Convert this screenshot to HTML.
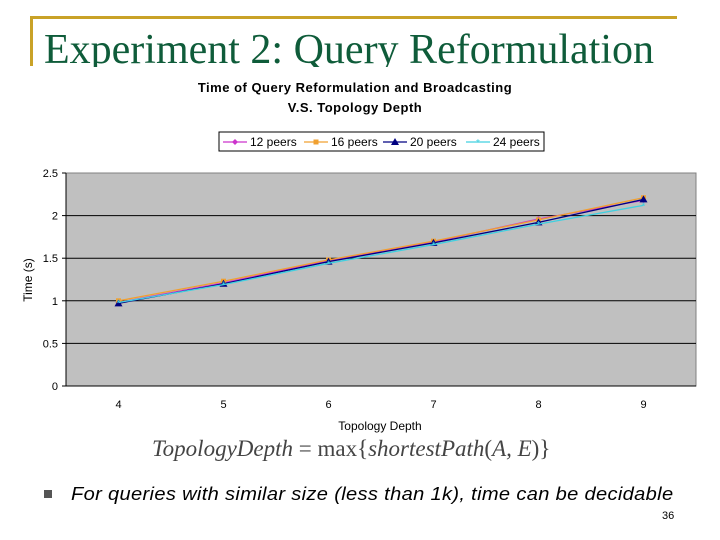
<!DOCTYPE html>
<html><head><meta charset="utf-8"><style>
body{margin:0;width:720px;height:540px;background:#fff;overflow:hidden;position:relative;font-family:"Liberation Sans",sans-serif}
.abs{position:absolute}
</style></head><body>
<div class="abs" style="left:30px;top:16px;width:647px;height:3px;background:#c9a227"></div>
<div class="abs" style="left:30px;top:16px;width:3px;height:50px;background:#c9a227"></div>
<div class="abs" style="left:44px;top:25px;font-family:'Liberation Serif',serif;font-size:42px;color:#0f5c3a;white-space:nowrap;line-height:50px;height:42px;overflow:hidden">Experiment 2: Query Reformulation</div>
<svg class="abs" style="left:0;top:0" width="720" height="540">
<g id="chart"></g>
</svg>
<div class="abs" style="left:152px;top:436px;font-family:'Liberation Serif',serif;font-style:italic;font-size:23px;color:#444;white-space:nowrap">TopologyDepth <span style="font-style:normal">= max{</span>shortestPath<span style="font-style:normal">(</span>A, E<span style="font-style:normal">)}</span></div>
<div class="abs" style="left:44px;top:490px;width:8px;height:8px;background:#555"></div>
<div class="abs" style="left:71px;top:484px;font-size:18px;font-style:italic;color:#000;white-space:nowrap;letter-spacing:0.3px;transform:scaleX(1.115);transform-origin:left">For queries with similar size (less than 1k), time can be decidable</div>
<div class="abs" style="left:662px;top:510px;font-size:11px;color:#000">36</div>
<script>
const categories=[4,5,6,7,8,9];
const yTicks=[0,0.5,1,1.5,2,2.5];
const yTickLabels=["0","0.5","1","1.5","2","2.5"];
const s12=[0.98,1.21,1.47,1.69,1.96,2.18];
const s16=[1.00,1.23,1.48,1.70,1.95,2.21];
const s20=[0.97,1.20,1.46,1.68,1.92,2.19];
const s24=[0.98,1.19,1.44,1.66,1.90,2.12];
const seriesNames=["12 peers","16 peers","20 peers","24 peers"];
const NS="http://www.w3.org/2000/svg";
const g=document.getElementById('chart');
const L=66,R=696,T=173,B=386,ymax=2.5;
const xS=i=>L+(R-L)/categories.length*(i+0.5);
const yS=v=>B-(B-T)*v/ymax;
function mk(t,a,txt){const e=document.createElementNS(NS,t);for(const k in a)e.setAttribute(k,a[k]);if(txt!=null)e.textContent=txt;g.appendChild(e);return e;}
let e;
e=mk('text',{x:355,y:92,'text-anchor':'middle','font-size':13,'font-weight':'bold','letter-spacing':'0.5'},'Time of Query Reformulation and Broadcasting');

e=mk('text',{x:355,y:112,'text-anchor':'middle','font-size':13,'font-weight':'bold','letter-spacing':'0.5'},'V.S. Topology Depth');

e=mk('rect',{x:L,y:T,width:R-L,height:B-T,fill:'#c0c0c0',stroke:'#808080'});

yTicks.forEach((v,i)=>{
 if(v>0&&v<ymax){e=mk('line',{x1:L,x2:R,y1:yS(v),y2:yS(v),stroke:'#000','stroke-width':1});
 }
 e=mk('line',{x1:L-4,x2:L,y1:yS(v),y2:yS(v),stroke:'#000'});
 
 e=mk('text',{x:L-8,y:yS(v)+4,'text-anchor':'end','font-size':11},yTickLabels[i]);
 
});
categories.forEach((c,i)=>{
 e=mk('text',{x:xS(i),y:408,'text-anchor':'middle','font-size':11},String(c));
 
});
e=mk('line',{x1:L,x2:L,y1:T,y2:B,stroke:'#000'});
e=mk('line',{x1:L,x2:R,y1:B,y2:B,stroke:'#000'});
e=mk('text',{x:380,y:430,'text-anchor':'middle','font-size':12},'Topology Depth');

e=mk('text',{x:0,y:0,'text-anchor':'middle','font-size':12,transform:'translate(32,280) rotate(-90)'},'Time (s)');

const series=[s12,s16,s20,s24];
const colors=['#cc33cc','#f0a030','#000080','#40d0e0'];
const shapes=['diamond','square','triangle','star'];
function marker(x,y,sh,col){
 if(sh==='diamond')return mk('polygon',{points:`${x},${y-3} ${x+3},${y} ${x},${y+3} ${x-3},${y}`,fill:col});
 if(sh==='square')return mk('rect',{x:x-2.5,y:y-2.5,width:5,height:5,fill:col});
 if(sh==='triangle')return mk('polygon',{points:`${x},${y-4} ${x+4},${y+3} ${x-4},${y+3}`,fill:col});
 return mk('text',{x:x,y:y+4,'text-anchor':'middle','font-size':10,fill:col},'*');
}
series.forEach((s,k)=>{
 e=mk('polyline',{points:s.map((v,i)=>xS(i)+','+yS(v)).join(' '),fill:'none',stroke:colors[k],'stroke-width':1.3});
 
 s.forEach((v,i)=>{e=marker(xS(i),yS(v),shapes[k],colors[k]);
  });
});
e=mk('rect',{x:219,y:132,width:325,height:19,fill:'#fff',stroke:'#000'});

const lx=[223,304,383,466];
seriesNames.forEach((n,k)=>{
 e=mk('line',{x1:lx[k],x2:lx[k]+24,y1:142,y2:142,stroke:colors[k],'stroke-width':1.3});
 
 e=marker(lx[k]+12,142,shapes[k],colors[k]);
 e=mk('text',{x:lx[k]+27,y:146,'font-size':12},n);
 
});
</script>
</body></html>
